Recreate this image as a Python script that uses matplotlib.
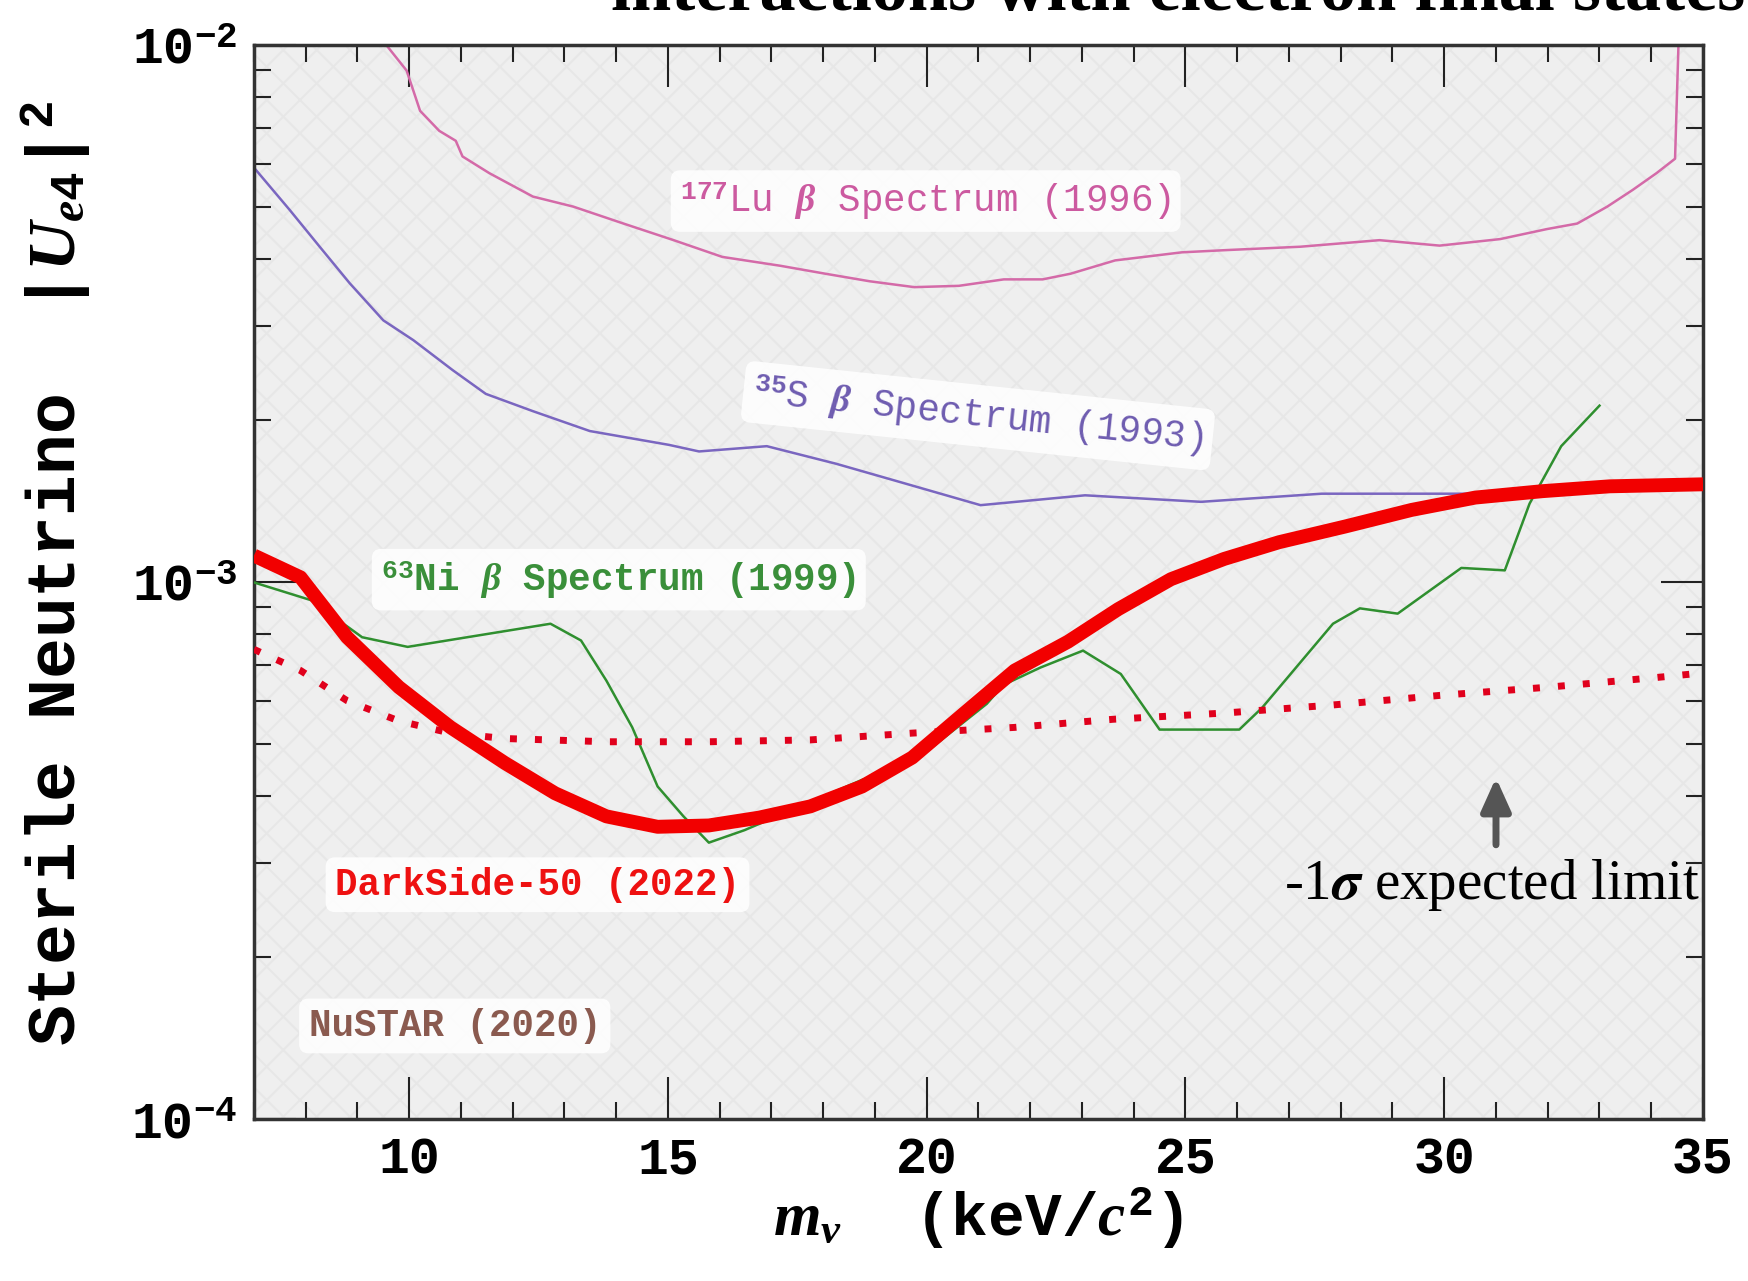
import matplotlib
matplotlib.use("Agg")
import matplotlib.pyplot as plt
from matplotlib.patches import Rectangle
from matplotlib.ticker import MultipleLocator, LogLocator, NullFormatter

plt.rcParams['font.family'] = ['Liberation Mono', 'DejaVu Sans']
plt.rcParams['font.weight'] = 'bold'
plt.rcParams['mathtext.fontset'] = 'custom'
plt.rcParams['mathtext.rm'] = 'Liberation Mono:bold'
plt.rcParams['mathtext.it'] = 'Liberation Serif:italic:bold'
plt.rcParams['mathtext.bf'] = 'Liberation Mono:bold'
plt.rcParams['hatch.linewidth'] = 1.5

# 177Lu beta spectrum (1996)
lu_x = [9.45, 9.95, 10.21, 10.58, 10.9, 11.03, 11.55, 12.39, 13.17, 14.14, 15.11, 16.05,
        17.17, 18.04, 18.9, 19.76, 20.62, 21.49, 22.24, 22.78, 23.64, 24.93, 25.8, 27.22,
        28.75, 29.91, 31.08, 31.98, 32.57, 33.15, 33.64, 34.1, 34.46, 34.53]
lu_y = [1.03e-2, 8.96e-3, 7.54e-3, 6.92e-3, 6.63e-3, 6.20e-3, 5.77e-3, 5.22e-3, 5.00e-3,
        4.65e-3, 4.33e-3, 4.03e-3, 3.88e-3, 3.75e-3, 3.63e-3, 3.54e-3, 3.56e-3, 3.66e-3,
        3.66e-3, 3.75e-3, 3.97e-3, 4.11e-3, 4.15e-3, 4.21e-3, 4.33e-3, 4.23e-3, 4.35e-3,
        4.54e-3, 4.65e-3, 5.00e-3, 5.37e-3, 5.77e-3, 6.14e-3, 1.03e-2]

# 35S beta spectrum (1993)
s_x = [7.0, 7.69, 8.27, 8.85, 9.5, 10.08, 10.84, 11.48, 12.39, 13.49, 15.02, 15.6, 16.91,
       18.25, 19.33, 21.04, 23.06, 25.3, 27.63, 30.47, 31.8]
s_y = [5.91e-3, 4.93e-3, 4.21e-3, 3.60e-3, 3.07e-3, 2.82e-3, 2.48e-3, 2.24e-3, 2.08e-3,
       1.91e-3, 1.80e-3, 1.75e-3, 1.79e-3, 1.66e-3, 1.55e-3, 1.39e-3, 1.45e-3, 1.41e-3,
       1.46e-3, 1.46e-3, 1.47e-3]

# 63Ni beta spectrum (1999)
ni_x = [7.0, 8.1, 9.09, 9.97, 12.73, 13.32, 13.81, 14.31, 14.8, 15.3, 15.79, 16.48, 18.75,
        19.72, 21.16, 21.48, 22.2, 23.02, 23.75, 24.5, 26.04, 26.48, 27.63, 27.85, 28.37,
        29.1, 30.33, 31.17, 31.65, 32.26, 33.0]
ni_y = [9.98e-4, 9.25e-4, 7.89e-4, 7.57e-4, 8.36e-4, 7.78e-4, 6.55e-4, 5.36e-4, 4.16e-4,
        3.66e-4, 3.27e-4, 3.45e-4, 4.28e-4, 4.60e-4, 5.93e-4, 6.43e-4, 6.93e-4, 7.45e-4,
        6.74e-4, 5.31e-4, 5.31e-4, 5.83e-4, 7.89e-4, 8.36e-4, 8.93e-4, 8.73e-4, 1.062e-3,
        1.051e-3, 1.40e-3, 1.79e-3, 2.13e-3]

# DarkSide-50 (2022) observed limit
ds_x = [7.0, 7.9, 8.8, 9.8, 10.8, 11.85, 12.82, 13.81, 14.8, 15.79, 16.76, 17.75, 18.75,
        19.72, 20.71, 21.7, 22.73, 23.7, 24.72, 25.75, 26.81, 28.08, 29.37, 30.6, 31.9,
        33.2, 35.0]
ds_y = [1.12e-3, 1.02e-3, 7.89e-4, 6.37e-4, 5.36e-4, 4.60e-4, 4.04e-4, 3.66e-4, 3.50e-4,
        3.52e-4, 3.64e-4, 3.82e-4, 4.16e-4, 4.71e-4, 5.68e-4, 6.84e-4, 7.74e-4, 8.90e-4,
        1.012e-3, 1.104e-3, 1.186e-3, 1.268e-3, 1.362e-3, 1.436e-3, 1.476e-3, 1.507e-3,
        1.52e-3]

# -1 sigma expected limit
exp_x = [7.0, 7.9, 8.8, 9.8, 10.8, 11.85, 13.81, 15.79, 17.75, 19.72, 21.7, 23.6, 25.75,
         27.84, 29.93, 32.02, 34.11, 35.0]
exp_y = [7.49e-4, 6.84e-4, 6.01e-4, 5.51e-4, 5.23e-4, 5.11e-4, 5.04e-4, 5.04e-4, 5.08e-4,
         5.23e-4, 5.36e-4, 5.55e-4, 5.70e-4, 5.90e-4, 6.15e-4, 6.37e-4, 6.64e-4, 6.77e-4]

xticks = [10, 15, 20, 25, 30, 35]
yticks = [1e-4, 1e-3, 1e-2]
ytick_labels = ['$10^{-4}$', '$10^{-3}$', '$10^{-2}$']

fig = plt.figure(figsize=(17.49, 12.81), dpi=100)
ax = fig.add_axes([0.1452, 0.1265, 0.8285, 0.8384])
ax.set_facecolor('#efefef')
ax.add_patch(Rectangle((0, 0), 1, 1, transform=ax.transAxes, facecolor='none',
                       edgecolor='#e7e7e7', hatch='x', lw=0, zorder=0))

ax.plot(lu_x, lu_y, color='#d46aa8', lw=1.8, zorder=2)
ax.plot(s_x, s_y, color='#7a66c0', lw=1.8, zorder=2)
ax.plot(ni_x, ni_y, color='#2f8f2f', lw=1.8, zorder=3)
ax.plot(exp_x, exp_y, color='#e0001c', lw=5, dashes=(1, 2.6), zorder=4)
ax.plot(ds_x, ds_y, color='#f20000', lw=10, solid_capstyle='butt',
        solid_joinstyle='round', zorder=5)

ax.set_xlim(7, 35)
ax.set_yscale('log')
ax.set_ylim(1e-4, 1e-2)
ax.set_xticks(xticks)
ax.xaxis.set_minor_locator(MultipleLocator(1))
ax.set_yticks(yticks)
ax.set_yticklabels(ytick_labels)
ax.yaxis.set_minor_locator(LogLocator(base=10, subs=range(2, 10)))
ax.yaxis.set_minor_formatter(NullFormatter())
ax.tick_params(which='both', direction='in', top=True, right=True, width=1.5,
               color='#222222')
ax.tick_params(which='major', length=30, labelsize=37, pad=12)
ax.tick_params(which='minor', length=12)
for sp in ax.spines.values():
    sp.set_linewidth(2.5)
    sp.set_color('#333333')

box = dict(boxstyle='round,pad=0.25', fc='white', ec='none', alpha=0.85)
ax.text(19.98, 5.12e-3, r'$^{177}$Lu $\beta$ Spectrum (1996)', color='#cc5aa0',
        fontsize=27, weight='normal', ha='center', va='center', bbox=box, zorder=6)
ax.text(20.99, 2.04e-3, r'$^{35}$S $\beta$ Spectrum (1993)', color='#6e5cb0',
        fontsize=27, weight='normal', ha='center', va='center', rotation=-6,
        bbox=box, zorder=6)
ax.text(14.05, 1.01e-3, r'$^{63}$Ni $\beta$ Spectrum (1999)', color='#3a8f3a',
        fontsize=27, ha='center', va='center', bbox=box, zorder=6)
ax.text(12.48, 2.73e-4, 'DarkSide-50 (2022)', color='#ee1111',
        fontsize=27, ha='center', va='center', bbox=box, zorder=6)
ax.text(10.88, 1.49e-4, 'NuSTAR (2020)', color='#8a5a4f',
        fontsize=27, ha='center', va='center', bbox=box, zorder=6)

ax.annotate('', xy=(31.0, 4.32e-4), xytext=(31.0, 3.24e-4),
            arrowprops=dict(arrowstyle='-|>,head_width=0.45,head_length=1.0',
                            color='#555555', lw=5, mutation_scale=20,
                            shrinkA=0, shrinkB=0), zorder=6)
ax.text(30.93, 2.73e-4, r'-1$\sigma$ expected limit', family='Liberation Serif',
        weight='normal', math_fontfamily='stix', fontsize=41, ha='center',
        va='center', clip_on=False, zorder=7)

fig.text(56 / 1749, 0.552, r'Sterile Neutrino  |$U_{e4}$|$^{2}$', rotation=90,
         fontsize=49, ha='center', va='center')
fig.text(0.5592, 0.049, r'$m_{\nu}$  (keV/$c^{2}$)', fontsize=44,
         ha='center', va='center')
fig.text(611 / 1749, 0.992, 'interactions with electron final states',
         family='Liberation Serif', fontsize=52, ha='left', va='baseline')

fig.savefig('out.png', dpi=100)
